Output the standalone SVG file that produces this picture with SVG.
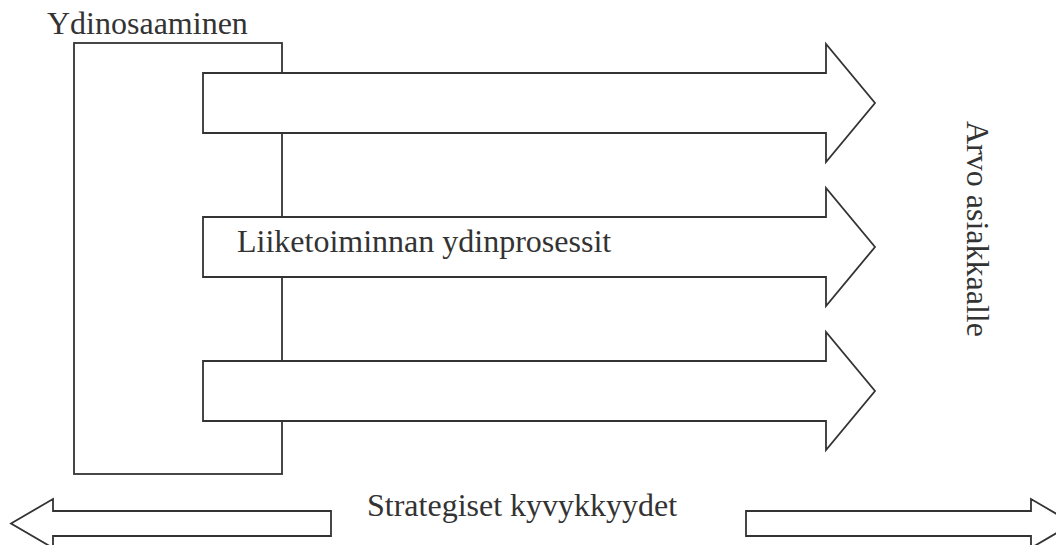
<svg xmlns="http://www.w3.org/2000/svg" width="1056" height="545" viewBox="0 0 1056 545">
<style>
.s{fill:#fff;stroke:#333;stroke-width:1.8;stroke-linejoin:miter}
.t{font-family:"Liberation Serif","Times New Roman",serif;font-size:32px;fill:#333}
</style>
<rect width="1056" height="545" fill="#fff"/>
<g id="ydinosaaminen">
<rect class="s" x="74" y="43" width="208" height="431"/>
<text class="t" x="47" y="34">Ydinosaaminen</text>
</g>
<g id="connectors">
<polygon id="arrow1" class="s" points="203,73 826,73 826,44 875,103 826,162 826,133 203,133"/>
<polygon id="arrow2" class="s" points="203,217 826,217 826,188 875,247 826,306 826,277 203,277"/>
<polygon id="arrow3" class="s" points="203,361 826,361 826,332 875,391 826,450 826,421 203,421"/>
<polygon id="left-arrow" class="s" points="11,523.5 53,499 53,511 331,511 331,536 53,536 53,548"/>
<polygon id="right-arrow" class="s" points="1073,523.5 1031,499 1031,511 746,511 746,536 1031,536 1031,548"/>
</g>
<g id="prosessit">
<text class="t" x="237" y="252">Liiketoiminnan ydinprosessit</text>
</g>
<g id="arvo">
<text class="t" transform="translate(967,121) rotate(90)">Arvo asiakkaalle</text>
</g>
<g id="kyvykkyydet">
<text class="t" x="367" y="516">Strategiset kyvykkyydet</text>
</g>
</svg>
